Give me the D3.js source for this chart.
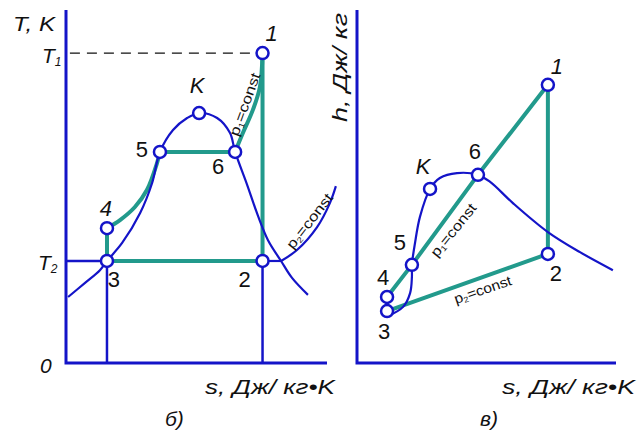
<!DOCTYPE html>
<html>
<head>
<meta charset="utf-8">
<script src="https://cdn.jsdelivr.net/npm/d3@7"></script>
<style>
  body { margin: 0; background: #fff; }
  text { font-family: "Liberation Sans Narrow", "Liberation Sans", Arial, sans-serif; fill: #111; }
</style>
</head>
<body>
<div class="chart"></div>
<script>
// ---- T-s diagram (panel б) ----
var ts_points = [
    {id: "1", s: 75.3, t: 87.8},
    {id: "K", s: 51.0, t: 70.8},
    {id: "5", s: 36.0, t: 59.8},
    {id: "6", s: 64.8, t: 59.8},
    {id: "4", s: 15.7, t: 38.2},
    {id: "3", s: 15.7, t: 28.9},
    {id: "2", s: 75.3, t: 28.9}
];
var ts_dome = [[0.8,18.7],[7.3,22.7],[13.0,26.3],[15.7,28.9],[21.5,34.0],[28.4,42.5],[33.0,51.0],
    [36.0,59.8],[41.0,66.0],[46.4,69.4],[51.0,70.8],[57.9,69.4],[62.8,65.2],[64.8,59.8],
    [69.3,50.7],[73.6,41.6],[77.4,34.8],[82.4,28.9],[86.6,24.1],[92.7,19.3]];
var ts_heat45 = [[15.7,38.2],[20.7,40.5],[26.4,44.2],[31.0,49.0],[34.9,56.7],[36.0,59.8]];
var ts_heat61 = [[64.8,59.8],[67.8,65.2],[71.6,71.7],[74.3,78.2],[75.3,87.8]];
var ts_p2 = [[82.4,28.9],[88.5,32.0],[96.2,38.5],[101.1,45.3],[103.4,50.1]];

// ---- h-s diagram (panel в) ----
var hs_points = [
    {id: "1", s: 73.7, h: 78.8},
    {id: "6", s: 46.7, h: 53.3},
    {id: "K", s: 28.2, h: 49.3},
    {id: "5", s: 21.2, h: 27.8},
    {id: "4", s: 11.6, h: 18.7},
    {id: "3", s: 11.6, h: 14.7},
    {id: "2", s: 73.7, h: 30.9}
];
var hs_dome = [[12.0,13.3],[17.8,15.9],[20.5,19.8],[21.2,24.4],[21.2,27.8],[22.4,34.0],[24.3,41.4],
    [28.2,49.3],[32.0,52.4],[38.6,53.8],[46.7,53.3],[51.4,51.3],[60.2,45.3],[73.7,37.1],
    [86.1,31.4],[98.8,26.3]];
var hs_cycle = ["3","4","5","6","1","2","3"];

var BLUE = "#1414c8", TEAL = "#229a8c";

var svg = d3.select("div.chart").append("svg")
    .attr("width", 639).attr("height", 432);

var xL = d3.scaleLinear().domain([0,100]).range([66,327]);
var yL = d3.scaleLinear().domain([0,100]).range([363,10]);
var xR = d3.scaleLinear().domain([0,100]).range([357,616]);
var yR = d3.scaleLinear().domain([0,100]).range([363,10]);

var lineL = d3.line().x(function(d){ return xL(d[0]); }).y(function(d){ return yL(d[1]); });
var curveL = d3.line().x(function(d){ return xL(d[0]); }).y(function(d){ return yL(d[1]); })
    .curve(d3.curveCatmullRom.alpha(0.5));
var lineR = d3.line().x(function(d){ return xR(d[0]); }).y(function(d){ return yR(d[1]); });
var curveR = d3.line().x(function(d){ return xR(d[0]); }).y(function(d){ return yR(d[1]); })
    .curve(d3.curveCatmullRom.alpha(0.5));

function P(arr, id){ return arr.filter(function(d){ return d.id == id; })[0]; }

function label(g, x, y, txt, len){
    return g.append("text").attr("x",x).attr("y",y).attr("font-size","21px").attr("font-style","italic")
        .attr("textLength",len).attr("lengthAdjust","spacingAndGlyphs").text(txt);
}
function pconst(g, tr, n, len){
    g.append("text").attr("transform",tr).attr("font-size","14px")
        .attr("textLength",len).attr("lengthAdjust","spacingAndGlyphs")
        .html("p<tspan font-size='8px' dy='2'>"+n+"</tspan><tspan dy='-2'>=const</tspan>");
}

// ===== left panel =====
var gL = svg.append("g");
var p1 = P(ts_points,"1"), p2 = P(ts_points,"2"), p3 = P(ts_points,"3"), p4 = P(ts_points,"4");
var p5 = P(ts_points,"5"), p6 = P(ts_points,"6");

// dashed T1
gL.append("path").attr("d", lineL([[1.5,p1.t],[p1.s,p1.t]]))
    .attr("stroke","#111").attr("stroke-width",1.3).attr("stroke-dasharray","10,7").attr("fill","none");

// teal cycle
var teal = gL.append("g").attr("fill","none").attr("stroke",TEAL).attr("stroke-width",4);
teal.append("path").attr("d", lineL([[p3.s,p3.t],[p4.s,p4.t]]));
teal.append("path").attr("d", curveL(ts_heat45));
teal.append("path").attr("d", lineL([[p5.s,p5.t],[p6.s,p6.t]]));
teal.append("path").attr("d", curveL(ts_heat61));
teal.append("path").attr("d", lineL([[p1.s,p1.t],[p2.s,p2.t]]));
teal.append("path").attr("d", lineL([[p2.s,p2.t],[p3.s,p3.t]]));

// blue lines
var blue = gL.append("g").attr("fill","none").attr("stroke",BLUE);
blue.append("path").attr("d", curveL(ts_dome)).attr("stroke-width",2.2);
blue.append("path").attr("d", curveL(ts_p2)).attr("stroke-width",2.2);
blue.append("path").attr("d", lineL([[0,p3.t],[p3.s,p3.t]])).attr("stroke-width",2.5);
blue.append("path").attr("d", lineL([[p2.s,p2.t],[82.4,p2.t]])).attr("stroke-width",2.2);
blue.append("path").attr("d", lineL([[p3.s,0],[p3.s,p3.t]])).attr("stroke-width",2.5);
blue.append("path").attr("d", lineL([[p2.s,0],[p2.s,p2.t]])).attr("stroke-width",2.5);
blue.append("path").attr("d", lineL([[0,100],[0,0],[100,0]])).attr("stroke-width",3);

gL.selectAll("circle").data(ts_points).enter().append("circle")
    .attr("cx", function(d){ return xL(d.s); }).attr("cy", function(d){ return yL(d.t); })
    .attr("r",6).attr("fill","#fff").attr("stroke",BLUE).attr("stroke-width",2.5);

var offL = {"1":[9,-12],"K":[-2,-20],"5":[-18,5],"6":[-17,22],"4":[-1,-12],"3":[7,26],"2":[-18,26]};
gL.selectAll("text.pt").data(ts_points).enter().append("text").attr("class","pt")
    .attr("x", function(d){ return xL(d.s)+offL[d.id][0]; })
    .attr("y", function(d){ return yL(d.t)+offL[d.id][1]; })
    .attr("text-anchor","middle").attr("font-size","22px")
    .attr("font-style", function(d){ return (d.id=="K"||d.id=="1"||d.id=="4")?"italic":"normal"; })
    .text(function(d){ return d.id; });

label(gL, 13, 31, "T, K", 42);
var t1 = gL.append("text").attr("x",42).attr("y",63).attr("font-size","21px").attr("font-style","italic");
t1.append("tspan").text("T");
t1.append("tspan").attr("font-size","12px").attr("dy",3).text("1");
var t2 = gL.append("text").attr("x",38).attr("y",270).attr("font-size","21px").attr("font-style","italic");
t2.append("tspan").text("T");
t2.append("tspan").attr("font-size","12px").attr("dy",3).text("2");
gL.append("text").attr("x",40).attr("y",373).attr("font-size","21px").attr("font-style","italic").text("0");
label(gL, 205, 394, "s, Дж/  кг•K", 130);
gL.append("text").attr("x",165).attr("y",426).attr("font-size","21px").attr("font-style","italic").text("б)");

pconst(gL, "translate(238,137) rotate(-70)", 1, 66);
pconst(gL, "translate(293,250) rotate(-52)", 2, 66);

// ===== right panel =====
var gR = svg.append("g");
var cyc = hs_cycle.map(function(id){ var d = P(hs_points,id); return [d.s,d.h]; });
gR.append("path").attr("d", lineR(cyc)).attr("fill","none").attr("stroke",TEAL)
    .attr("stroke-width",4).attr("stroke-linejoin","round");
gR.append("path").attr("d", curveR(hs_dome)).attr("fill","none").attr("stroke",BLUE).attr("stroke-width",2.2);
gR.append("path").attr("d", lineR([[0,100],[0,0],[100,0]])).attr("fill","none").attr("stroke",BLUE).attr("stroke-width",3);

gR.selectAll("circle").data(hs_points).enter().append("circle")
    .attr("cx", function(d){ return xR(d.s); }).attr("cy", function(d){ return yR(d.h); })
    .attr("r",6).attr("fill","#fff").attr("stroke",BLUE).attr("stroke-width",2.5);

var offR = {"1":[9,-11],"6":[-3,-16],"K":[-7,-15],"5":[-12,-15],"4":[-4,-12],"3":[-3,28],"2":[8,27]};
gR.selectAll("text.pt").data(hs_points).enter().append("text").attr("class","pt")
    .attr("x", function(d){ return xR(d.s)+offR[d.id][0]; })
    .attr("y", function(d){ return yR(d.h)+offR[d.id][1]; })
    .attr("text-anchor","middle").attr("font-size","22px")
    .attr("font-style", function(d){ return (d.id=="K"||d.id=="1")?"italic":"normal"; })
    .text(function(d){ return d.id; });

gR.append("text").attr("transform","translate(347,122) rotate(-90)")
    .attr("font-size","21px").attr("font-style","italic")
    .attr("textLength",109).attr("lengthAdjust","spacingAndGlyphs").text("h, Дж/ кг");
label(gR, 502, 394, "s, Дж/  кг•K", 133);
gR.append("text").attr("x",480).attr("y",426).attr("font-size","21px").attr("font-style","italic").text("в)");

pconst(gR, "translate(437,258) rotate(-51)", 1, 64);
pconst(gR, "translate(456,304) rotate(-19)", 2, 60);
</script>
</body>
</html>
